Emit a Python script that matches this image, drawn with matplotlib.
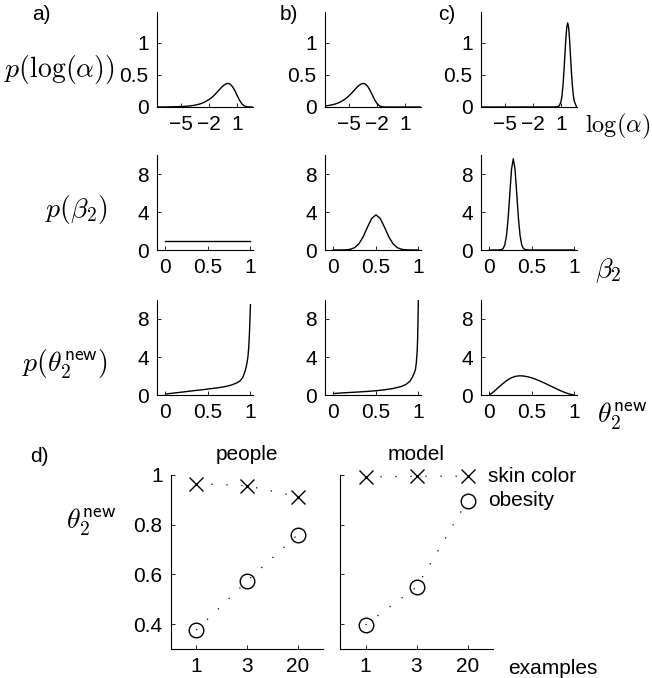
import matplotlib
matplotlib.use('Agg')
import matplotlib.pyplot as plt

plt.rcParams['font.family'] = ['Liberation Sans', 'DejaVu Sans']
plt.rcParams['mathtext.fontset'] = 'cm'

# ---------------- data ----------------
# row 1: p(log(alpha))
la_x_a = [-7.6, -7, -6, -5, -4.5, -4, -3.5, -3, -2.5, -2, -1.75, -1.5, -1.25, -1, -0.75,
          -0.5, -0.25, 0, 0.25, 0.5, 0.75, 1, 1.25, 1.5, 1.75, 2, 2.25, 2.5, 2.7]
la_y_a = [0.0005, 0.0009, 0.0025, 0.0067, 0.011, 0.018, 0.029, 0.047, 0.076, 0.118, 0.146,
          0.178, 0.215, 0.255, 0.295, 0.331, 0.357, 0.368, 0.356, 0.317, 0.255, 0.179, 0.106,
          0.051, 0.018, 0.005, 0.001, 0.0001, 0.0]
la_x_b = [-7.6, -7.25, -7, -6.75, -6.5, -6.25, -6, -5.75, -5.5, -5.25, -5, -4.75, -4.5, -4.25,
          -4, -3.75, -3.5, -3.25, -3, -2.75, -2.5, -2.25, -2, -1.75, -1.5, -1.25, -1, 0, 1, 2, 2.7]
la_y_b = [0.016, 0.023, 0.029, 0.037, 0.047, 0.060, 0.076, 0.095, 0.118, 0.146, 0.178, 0.215,
          0.255, 0.295, 0.331, 0.357, 0.368, 0.356, 0.317, 0.255, 0.179, 0.106, 0.051, 0.018,
          0.005, 0.001, 0.0001, 0.0, 0.0, 0.0, 0.0]
la_x_c = [-7.6, 0.5, 0.8, 1.0, 1.1, 1.2, 1.3, 1.4, 1.5, 1.6, 1.7, 1.8, 1.9, 2.0, 2.1, 2.2,
          2.3, 2.4, 2.6, 2.7]
la_y_c = [0.0, 0.001, 0.017, 0.094, 0.189, 0.342, 0.554, 0.807, 1.056, 1.242, 1.31, 1.242,
          1.056, 0.807, 0.554, 0.342, 0.189, 0.094, 0.017, 0.006]

# row 2: p(beta_2)
b2_x_a = [0.0, 1.0]
b2_y_a = [1.0, 1.0]
b2_x_b = [0.0, 0.1, 0.15, 0.2, 0.25, 0.3, 0.35, 0.4, 0.45, 0.5, 0.55, 0.6, 0.65, 0.7,
          0.75, 0.8, 0.85, 0.9, 1.0]
b2_y_b = [0.0001, 0.004, 0.019, 0.077, 0.252, 0.662, 1.405, 2.407, 3.322, 3.7, 3.322, 2.407,
          1.405, 0.662, 0.252, 0.077, 0.019, 0.004, 0.0001]
b2_x_c = [0.0, 0.1, 0.14, 0.16, 0.18, 0.2, 0.22, 0.24, 0.26, 0.28, 0.30, 0.32, 0.34, 0.36,
          0.38, 0.40, 0.42, 0.46, 1.0]
b2_y_c = [0.0, 0.001, 0.033, 0.15, 0.53, 1.51, 3.39, 6.05, 8.55, 9.6, 8.55, 6.05, 3.39, 1.51,
          0.53, 0.15, 0.033, 0.001, 0.0]

# row 3: p(theta_2 new)
th_x_a = [0.0, 0.1, 0.2, 0.3, 0.4, 0.5, 0.6, 0.7, 0.78, 0.84, 0.88, 0.91, 0.94, 0.96, 0.97,
          0.98, 0.99, 0.995, 1.0]
th_y_a = [0.1, 0.21, 0.31, 0.42, 0.52, 0.63, 0.74, 0.88, 1.06, 1.28, 1.5, 1.85, 2.6, 3.4, 4.0,
          5.0, 6.9, 8.3, 9.5]
th_x_b = [0.0, 0.1, 0.2, 0.3, 0.4, 0.5, 0.6, 0.7, 0.8, 0.85, 0.9, 0.93, 0.95, 0.965, 0.975,
          0.985, 0.99, 0.995, 1.0]
th_y_b = [0.15, 0.22, 0.27, 0.32, 0.38, 0.45, 0.55, 0.68, 0.9, 1.1, 1.45, 1.9, 2.3, 2.7, 3.4,
          4.6, 5.8, 8.0, 10.5]
th_x_c = [0.0, 0.05, 0.1, 0.15, 0.2, 0.25, 0.3, 0.35, 0.4, 0.45, 0.5, 0.55, 0.6, 0.65, 0.7,
          0.75, 0.8, 0.85, 0.9, 0.95, 1.0]
th_y_c = [0.0, 0.35, 0.75, 1.15, 1.5, 1.78, 1.95, 2.02, 2.0, 1.92, 1.8, 1.63, 1.45, 1.25, 1.03,
          0.82, 0.6, 0.4, 0.22, 0.08, 0.0]

# panel d
examples = ['1', '3', '20']
people_skin = [0.965, 0.957, 0.913]
people_obesity = [0.376, 0.573, 0.76]
model_skin = [0.992, 0.995, 0.995]
model_obesity = [0.397, 0.549, 0.897]

la_ticks = [-5, -2, 1]
la_ticklabels = ['\u22125', '\u22122', '1']
p_ticks = [0, 0.5, 1]
p_ticklabels = ['0', '0.5', '1']
dens_ticks = [0, 4, 8]
dens_ticklabels = ['0', '4', '8']
la_yticks = [0, 0.5, 1]
la_yticklabels = ['0', '0.5', '1']
d_yticks = [0.4, 0.6, 0.8, 1.0]
d_yticklabels = ['0.4', '0.6', '0.8', '1']

# ---------------- figure ----------------
W, H = 652, 678
fig = plt.figure(figsize=(W / 100, H / 100), dpi=100)
FS = 15
MFS = 20


def ax_px(x0, y0, x1, y1):
    return fig.add_axes([x0 / W, 1 - y1 / H, (x1 - x0) / W, (y1 - y0) / H])


def txt(x, y, s, **kw):
    fig.text(x / W, 1 - y / H, s, **kw)


def style(ax, fs=FS):
    for s in ['top', 'right']:
        ax.spines[s].set_visible(False)
    for s in ['left', 'bottom']:
        ax.spines[s].set_linewidth(0.8)
    ax.tick_params(direction='in', length=3, width=0.6, labelsize=fs, pad=6)


cols = [(157, 253), (325, 421), (481, 577)]
rows = [(12, 107), (155, 250), (300, 395)]

row_data = [
    [(la_x_a, la_y_a), (la_x_b, la_y_b), (la_x_c, la_y_c)],
    [(b2_x_a, b2_y_a), (b2_x_b, b2_y_b), (b2_x_c, b2_y_c)],
    [(th_x_a, th_y_a), (th_x_b, th_y_b), (th_x_c, th_y_c)],
]

for r, (y0, y1) in enumerate(rows):
    for c, (x0, x1) in enumerate(cols):
        ax = ax_px(x0, y0, x1, y1)
        style(ax)
        xs, ys = row_data[r][c]
        ax.plot(xs, ys, color='black', lw=1.0)
        if r == 0:
            ax.set_xlim(-7.6, 2.7)
            ax.set_xticks(la_ticks)
            ax.set_xticklabels(la_ticklabels)
            ax.set_ylim(0, 1.48)
            ax.set_yticks(la_yticks)
            ax.set_yticklabels(la_yticklabels)
        else:
            ax.set_xlim(-0.1, 1.03)
            ax.set_xticks(p_ticks)
            ax.set_xticklabels(p_ticklabels)
            ax.set_ylim(0, 10)
            ax.set_yticks(dens_ticks)
            ax.set_yticklabels(dens_ticklabels)

# row labels
txt(115, 70, r'$p(\log(\alpha))$', ha='right', va='center', fontsize=MFS)
txt(108, 210, r'$p(\beta_2)$', ha='right', va='center', fontsize=MFS)
txt(108, 364, r'$p(\theta_2^{\mathsf{new}})$', ha='right', va='center', fontsize=MFS)
# right axis labels
txt(585, 126, r'$\log(\alpha)$', ha='left', va='center', fontsize=17.5)
txt(595, 271, r'$\beta_2$', ha='left', va='center', fontsize=MFS)
txt(597, 416, r'$\theta_2^{\mathsf{new}}$', ha='left', va='center', fontsize=MFS)
# panel letters
txt(41, 15, 'a)', ha='center', va='center', fontsize=FS)
txt(289, 15, 'b)', ha='center', va='center', fontsize=FS)
txt(447, 15, 'c)', ha='center', va='center', fontsize=FS)
txt(39, 456, 'd)', ha='center', va='center', fontsize=FS)

# ---------------- panel d ----------------
xpos = [1, 2, 3]
dot = (0, (1, 11))
for (x0, x1), skin, obes, title, showy in [((171, 323), people_skin, people_obesity, 'people', True),
                                           ((340, 493), model_skin, model_obesity, 'model', False)]:
    ax = ax_px(x0, 475, x1, 649)
    style(ax)
    ax.plot(xpos, skin, linestyle=dot, lw=0.9, color='black', marker='x', ms=9.5, mew=1.0,
            clip_on=False)
    ax.plot(xpos, obes, linestyle=dot, lw=0.9, color='black', marker='o', ms=10.5, mew=1.0,
            mfc='none', clip_on=False)
    ax.set_xlim(0.5, 3.5)
    ax.set_ylim(0.3, 1.0)
    ax.set_xticks(xpos)
    ax.set_xticklabels(examples)
    ax.set_yticks(d_yticks)
    if showy:
        ax.set_yticklabels(d_yticklabels)
    else:
        ax.set_yticklabels([])
        ax.text(3.4, skin[-1], 'skin color', ha='left', va='center', fontsize=FS, clip_on=False)
        ax.text(3.4, obes[-1], 'obesity', ha='left', va='center', fontsize=FS, clip_on=False)
    txt((x0 + x1) / 2, 455, title, ha='center', va='center', fontsize=FS)

txt(91, 522, r'$\theta_2^{\mathsf{new}}$', ha='center', va='center', fontsize=MFS)
txt(508, 668, 'examples', ha='left', va='center', fontsize=FS)

fig.savefig('out.png', dpi=100)
